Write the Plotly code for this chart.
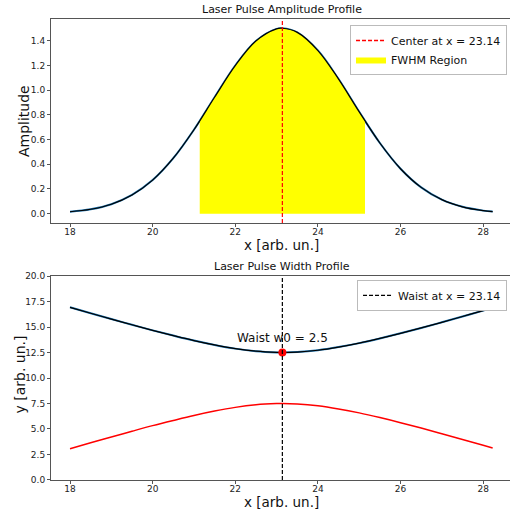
import plotly.graph_objects as go

# ---- data ----
x_vals = [18.0, 18.5, 19.0, 19.5, 20.0, 20.5, 21.0, 21.5, 22.0, 22.5, 23.0, 23.14,
          23.5, 24.0, 24.5, 25.0, 25.5, 26.0, 26.5, 27.0, 27.5, 28.0, 28.23]
amplitude = [0.016, 0.036, 0.077, 0.152, 0.272, 0.449, 0.679, 0.942, 1.198, 1.397, 1.495, 1.500,
             1.467, 1.320, 1.089, 0.824, 0.572, 0.364, 0.213, 0.114, 0.056, 0.025, 0.017]

fwhm_x = [21.14, 21.5, 22.0, 22.5, 23.0, 23.14, 23.5, 24.0, 24.5, 25.0, 25.14]
fwhm_y = [0.751, 0.942, 1.198, 1.397, 1.495, 1.500, 1.467, 1.320, 1.089, 0.824, 0.751]

width_upper = [16.93, 16.35, 15.78, 15.22, 14.67, 14.16, 13.67, 13.24, 12.88, 12.63, 12.51, 12.50,
               12.54, 12.72, 13.03, 13.42, 13.88, 14.38, 14.91, 15.46, 16.03, 16.61, 16.87]
width_lower = [3.07, 3.65, 4.22, 4.78, 5.33, 5.84, 6.33, 6.76, 7.12, 7.37, 7.49, 7.50,
               7.46, 7.28, 6.97, 6.58, 6.12, 5.62, 5.09, 4.54, 3.97, 3.40, 3.13]

center_x = 23.14
waist_w0 = 2.5
waist_y = 12.5

amp_ticks = [0.0, 0.2, 0.4, 0.6, 0.8, 1.0, 1.2, 1.4]
width_ticks = [0.0, 2.5, 5.0, 7.5, 10.0, 12.5, 15.0, 17.5, 20.0]
x_ticks = [18, 20, 22, 24, 26, 28]

FONT = "DejaVu Sans"
AX = "#555555"
TXT = "#111111"
DASH = "4px,2px"

fig = go.Figure()

# ---- top panel ----
fig.add_trace(go.Scatter(x=x_vals, y=amplitude, mode="lines", line=dict(color="#1f77b4", width=2.0, shape="spline"),
                         showlegend=False, xaxis="x", yaxis="y", hoverinfo="skip"))
fig.add_trace(go.Scatter(x=[None], y=[None], mode="lines", name="Center at x = 23.14",
                         line=dict(color="red", width=1.3, dash=DASH), legend="legend", xaxis="x", yaxis="y"))
fig.add_trace(go.Scatter(x=fwhm_x, y=fwhm_y, mode="lines", fill="tozeroy", fillcolor="#ffff00",
                         line=dict(color="#ffff00", width=0, shape="spline"), name="FWHM Region",
                         legend="legend", xaxis="x", yaxis="y"))
fig.add_trace(go.Scatter(x=x_vals, y=amplitude, mode="lines", line=dict(color="black", width=1.2, shape="spline"),
                         showlegend=False, xaxis="x", yaxis="y"))

# ---- bottom panel ----
fig.add_trace(go.Scatter(x=x_vals, y=width_upper, mode="lines", line=dict(color="#1f77b4", width=2.0, shape="spline"),
                         showlegend=False, xaxis="x2", yaxis="y2"))
fig.add_trace(go.Scatter(x=x_vals, y=width_upper, mode="lines", line=dict(color="black", width=1.2, shape="spline"),
                         showlegend=False, xaxis="x2", yaxis="y2"))
fig.add_trace(go.Scatter(x=x_vals, y=width_lower, mode="lines", line=dict(color="red", width=1.5, shape="spline"),
                         showlegend=False, xaxis="x2", yaxis="y2"))
fig.add_trace(go.Scatter(x=[None], y=[None], mode="lines", name="Waist at x = 23.14",
                         line=dict(color="black", width=1.3, dash=DASH), legend="legend2", xaxis="x2", yaxis="y2"))
fig.add_trace(go.Scatter(x=[center_x], y=[waist_y], mode="markers", marker=dict(color="red", size=8),
                         showlegend=False, xaxis="x2", yaxis="y2"))

# vertical lines
fig.add_shape(type="line", xref="x", yref="y domain", x0=center_x, x1=center_x, y0=0, y1=1,
              line=dict(color="red", width=1.2, dash=DASH))
fig.add_shape(type="line", xref="x2", yref="y2 domain", x0=center_x, x1=center_x, y0=0, y1=1,
              line=dict(color="black", width=1.2, dash=DASH))

xr = [17.54, 28.65]
common_x = dict(range=xr, tickvals=x_ticks, showline=True, linecolor=AX, linewidth=1, mirror=True,
                ticks="outside", ticklen=3, tickcolor=AX, showgrid=False, zeroline=False,
                tickfont=dict(family=FONT, size=9, color="#222"))
common_y = dict(showline=True, linecolor=AX, linewidth=1, ticks="outside", ticklen=3, tickcolor=AX,
                showgrid=False, zeroline=False, tickformat=".1f",
                tickfont=dict(family=FONT, size=9, color="#222"))

label_font = dict(family=FONT, size=13.5, color=TXT)

fig.update_layout(
    width=510, height=513,
    margin=dict(l=51, r=0, t=19, b=33),
    paper_bgcolor="white", plot_bgcolor="white",
    font=dict(family=FONT, color=TXT),
    xaxis=dict(domain=[0, 1], anchor="y", **common_x),
    yaxis=dict(domain=[0.5575, 1.0], anchor="x", range=[-0.075, 1.575], tickvals=amp_ticks, **common_y),
    xaxis2=dict(domain=[0, 1], anchor="y2", **common_x),
    yaxis2=dict(domain=[0, 0.4425], anchor="x2", range=[0, 20], tickvals=width_ticks, **common_y),
    legend=dict(x=0.9935, y=0.987, xanchor="right", yanchor="top", bgcolor="white",
                bordercolor="#bbbbbb", borderwidth=1, font=dict(family=FONT, size=11, color=TXT),
                tracegroupgap=0, itemwidth=30),
    legend2=dict(x=0.9935, y=0.434, xanchor="right", yanchor="top", bgcolor="white",
                 bordercolor="#bbbbbb", borderwidth=1, font=dict(family=FONT, size=11, color=TXT),
                 itemwidth=30),
    annotations=[
        dict(text="Laser Pulse Amplitude Profile", xref="paper", yref="paper", x=0.503, y=1.0, yshift=1,
             xanchor="center", yanchor="bottom", showarrow=False, font=dict(family=FONT, size=11, color=TXT)),
        dict(text="Laser Pulse Width Profile", xref="paper", yref="paper", x=0.503, y=0.4425, yshift=1,
             xanchor="center", yanchor="bottom", showarrow=False, font=dict(family=FONT, size=11, color=TXT)),
        dict(text="Waist w0 = 2.5", xref="x2", yref="y2", x=center_x, y=waist_y, yshift=6,
             xanchor="center", yanchor="bottom", showarrow=False, font=dict(family=FONT, size=12, color=TXT)),
        dict(text="x [arb. un.]", xref="paper", yref="paper", x=0.502, y=0.5098,
             xanchor="center", yanchor="middle", showarrow=False, font=label_font),
        dict(text="x [arb. un.]", xref="paper", yref="paper", x=0.502, y=-0.0477,
             xanchor="center", yanchor="middle", showarrow=False, font=label_font),
        dict(text="Amplitude", xref="paper", yref="paper", x=-0.0588, y=0.7787, textangle=-90,
             xanchor="center", yanchor="middle", showarrow=False, font=dict(family=FONT, size=14, color=TXT)),
        dict(text="y [arb. un.]", xref="paper", yref="paper", x=-0.0675, y=0.229, textangle=-90,
             xanchor="center", yanchor="middle", showarrow=False, font=dict(family=FONT, size=14, color=TXT)),
    ],
)

# pull x tick labels a little closer to the axis line, if supported
try:
    fig.update_xaxes(ticklabelstandoff=-3)
except Exception:
    pass

fig.write_html("out.html")
